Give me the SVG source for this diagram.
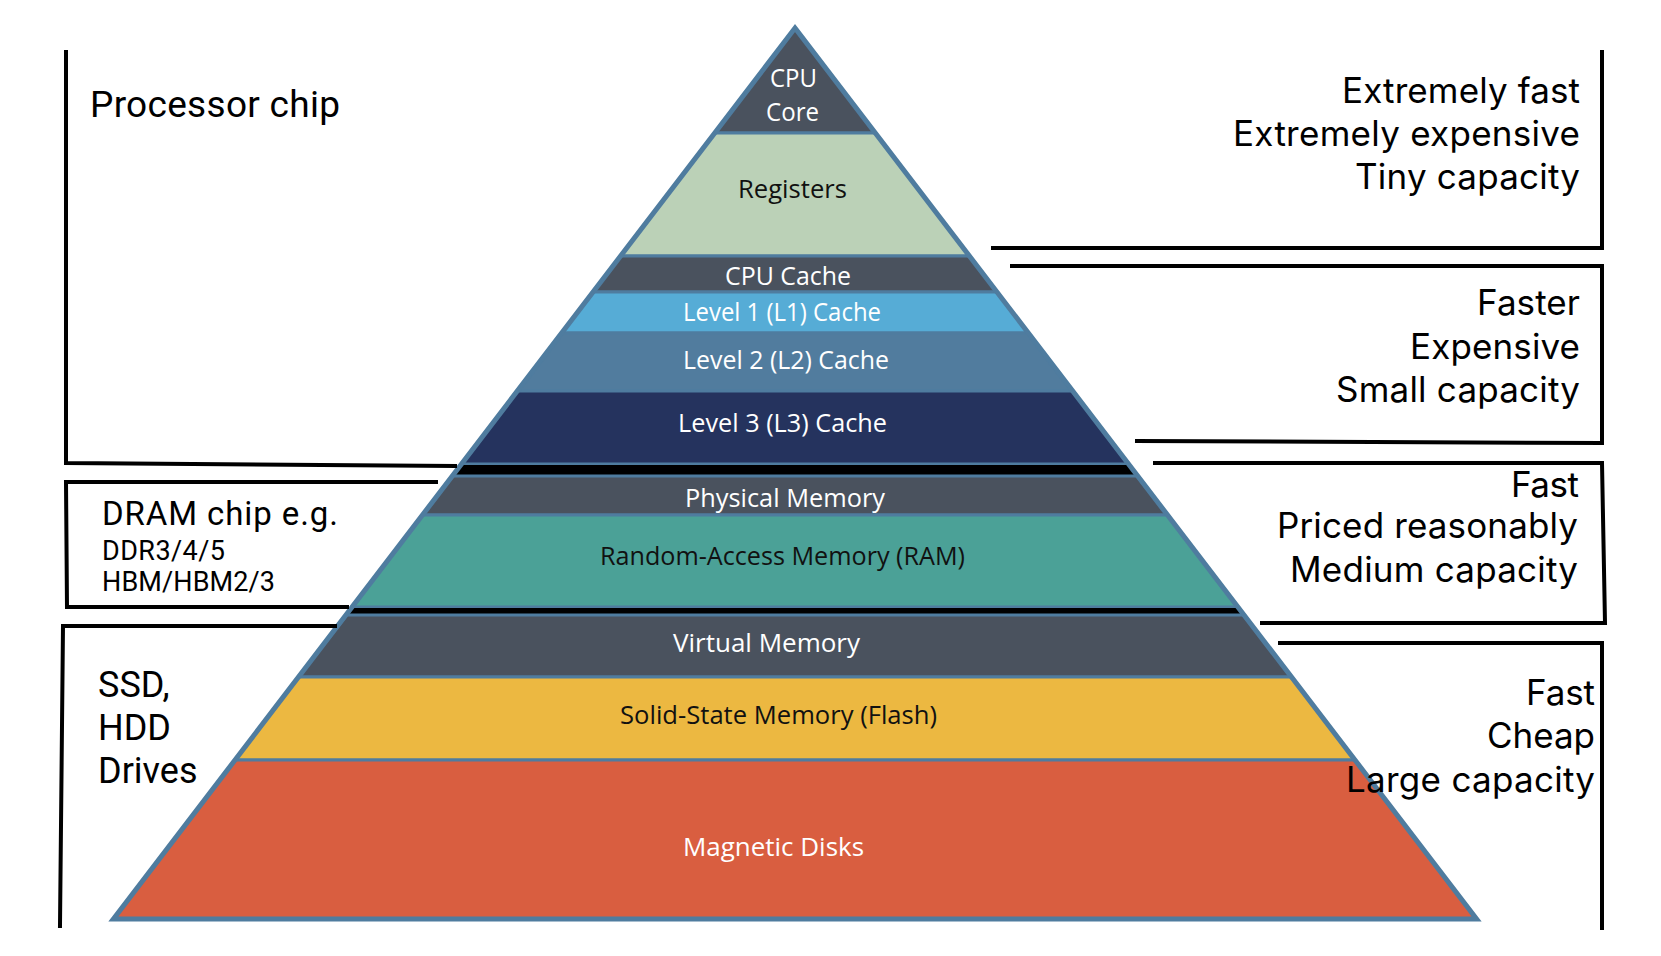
<svg xmlns="http://www.w3.org/2000/svg" width="1661" height="956" viewBox="0 0 1661 956">
<style>
.band{stroke:#4f7c9f;stroke-width:3;stroke-linejoin:miter}
.dark{fill:#4a525e}
.bl{font-family:"Open Sans","Noto Sans",sans-serif;font-size:26px;text-anchor:middle}
.w{fill:#ffffff}
.k{fill:#111111}
.br{fill:none;stroke:#000;stroke-width:4;stroke-linecap:square;stroke-linejoin:miter}
.lt{font-family:Roboto,"Noto Sans",sans-serif;fill:#000}
.rt{font-family:Inter,"Noto Sans",sans-serif;fill:#000;font-size:35px;text-anchor:end}
</style>
<rect width="1661" height="956" fill="#ffffff"/>

<g id="pyramid">
  <g id="cpu-core">
    <polygon class="band dark" points="795,28 875.3,133 714.7,133"/>
    <text class="bl w" x="793.5" y="87" textLength="47" lengthAdjust="spacingAndGlyphs">CPU</text>
    <text class="bl w" x="792.5" y="121" textLength="53" lengthAdjust="spacingAndGlyphs">Core</text>
  </g>
  <g id="registers">
    <polygon class="band" fill="#bbd1b7" points="714.7,133 875.3,133 969.4,256 620.6,256"/>
    <text class="bl k" x="792.5" y="198" textLength="109" lengthAdjust="spacingAndGlyphs">Registers</text>
  </g>
  <g id="cpu-cache">
    <polygon class="band dark" points="620.6,256 969.4,256 997,292 593,292"/>
    <text class="bl w" x="788" y="285" textLength="126" lengthAdjust="spacingAndGlyphs">CPU Cache</text>
  </g>
  <g id="l1-cache">
    <polygon class="band" fill="#56acd6" points="593,292 997,292 1028.3,333 561.7,333"/>
    <text class="bl w" x="782" y="321" textLength="198" lengthAdjust="spacingAndGlyphs">Level 1 (L1) Cache</text>
  </g>
  <g id="l2-cache">
    <polygon class="band" fill="#517c9e" points="561.7,333 1028.3,333 1072.7,391 517.3,391"/>
    <text class="bl w" x="786" y="369" textLength="206" lengthAdjust="spacingAndGlyphs">Level 2 (L2) Cache</text>
  </g>
  <g id="l3-cache">
    <polygon class="band" fill="#25335e" points="517.3,391 1072.7,391 1128,464 462,464"/>
    <text class="bl w" x="782.5" y="432" textLength="209" lengthAdjust="spacingAndGlyphs">Level 3 (L3) Cache</text>
  </g>
  <polygon fill="#000" points="461,465 1129,465 1137.5,476 452.5,476"/>
  <g id="physical-memory">
    <polygon class="band dark" points="453,476 1137,476 1167.6,515 422.4,515"/>
    <text class="bl w" x="785" y="507" textLength="200" lengthAdjust="spacingAndGlyphs">Physical Memory</text>
  </g>
  <g id="ram">
    <polygon class="band" fill="#4ba197" points="422.4,515 1167.6,515 1238,607 352,607"/>
    <text class="bl k" x="782.5" y="565" textLength="365" lengthAdjust="spacingAndGlyphs">Random-Access Memory (RAM)</text>
  </g>
  <polygon fill="#000" points="351,608 1239,608 1243.5,615 346.5,615"/>
  <g id="virtual-memory">
    <polygon class="band dark" points="346.7,615 1243.3,615 1291.5,677 298.5,677"/>
    <text class="bl w" x="766.5" y="652" textLength="187" lengthAdjust="spacingAndGlyphs">Virtual Memory</text>
  </g>
  <g id="flash">
    <polygon class="band" fill="#ecb841" points="298.5,677 1291.5,677 1355,760 235,760"/>
    <text class="bl k" x="778.5" y="724" textLength="317" lengthAdjust="spacingAndGlyphs">Solid-State Memory (Flash)</text>
  </g>
  <g id="magnetic-disks">
    <polygon class="band" fill="#d95e40" points="235,760 1355,760 1476.6,919 113.4,919"/>
    <text class="bl w" x="773.5" y="856" textLength="181" lengthAdjust="spacingAndGlyphs">Magnetic Disks</text>
  </g>
  <polygon fill="none" stroke="#4f7c9f" stroke-width="5" stroke-linejoin="miter" points="795,28 1476.6,919 113.4,919"/>
</g>

<g id="connectors">
  <polyline class="br" points="66,52 66,463 455,466"/>
  <polyline class="br" points="436,482 66,482 67,607 347,607"/>
  <polyline class="br" points="335,626 63,626 60,926"/>
  <polyline class="br" points="1602,52 1602,248 993,248"/>
  <polyline class="br" points="1012,266 1602,266 1602,443 1137,441"/>
  <polyline class="br" points="1155,463 1602,463 1605,623 1262,623"/>
  <polyline class="br" points="1280,643 1602,643 1602,928"/>
</g>

<g id="label-processor">
  <text class="lt" x="90" y="117" font-size="37" textLength="250" lengthAdjust="spacing">Processor chip</text>
</g>
<g id="label-dram">
  <text class="lt" x="102" y="525" font-size="33" textLength="236" lengthAdjust="spacing">DRAM chip e.g.</text>
  <text class="lt" x="102" y="560" font-size="27" textLength="123" lengthAdjust="spacing">DDR3/4/5</text>
  <text class="lt" x="102" y="591" font-size="27" textLength="173" lengthAdjust="spacing">HBM/HBM2/3</text>
</g>
<g id="label-drives">
  <text class="lt" x="98" y="697" font-size="36">SSD,</text>
  <text class="lt" x="98" y="740" font-size="36">HDD</text>
  <text class="lt" x="98" y="783" font-size="36">Drives</text>
</g>

<g id="label-tier1">
  <text class="rt" x="1580" y="103" textLength="238" lengthAdjust="spacing">Extremely fast</text>
  <text class="rt" x="1580" y="146" textLength="347" lengthAdjust="spacing">Extremely expensive</text>
  <text class="rt" x="1580" y="189" textLength="225" lengthAdjust="spacing">Tiny capacity</text>
</g>
<g id="label-tier2">
  <text class="rt" x="1580" y="315" textLength="103" lengthAdjust="spacing">Faster</text>
  <text class="rt" x="1580" y="359" textLength="170" lengthAdjust="spacing">Expensive</text>
  <text class="rt" x="1580" y="402" textLength="244" lengthAdjust="spacing">Small capacity</text>
</g>
<g id="label-tier3">
  <text class="rt" x="1579" y="497" textLength="68" lengthAdjust="spacing">Fast</text>
  <text class="rt" x="1578" y="538" textLength="301" lengthAdjust="spacing">Priced reasonably</text>
  <text class="rt" x="1578" y="582" textLength="288" lengthAdjust="spacing">Medium capacity</text>
</g>
<g id="label-tier4">
  <text class="rt" x="1595" y="705" textLength="69" lengthAdjust="spacing">Fast</text>
  <text class="rt" x="1595" y="748" textLength="108" lengthAdjust="spacing">Cheap</text>
  <text class="rt" x="1595" y="792" textLength="249" lengthAdjust="spacing">Large capacity</text>
</g>
</svg>
